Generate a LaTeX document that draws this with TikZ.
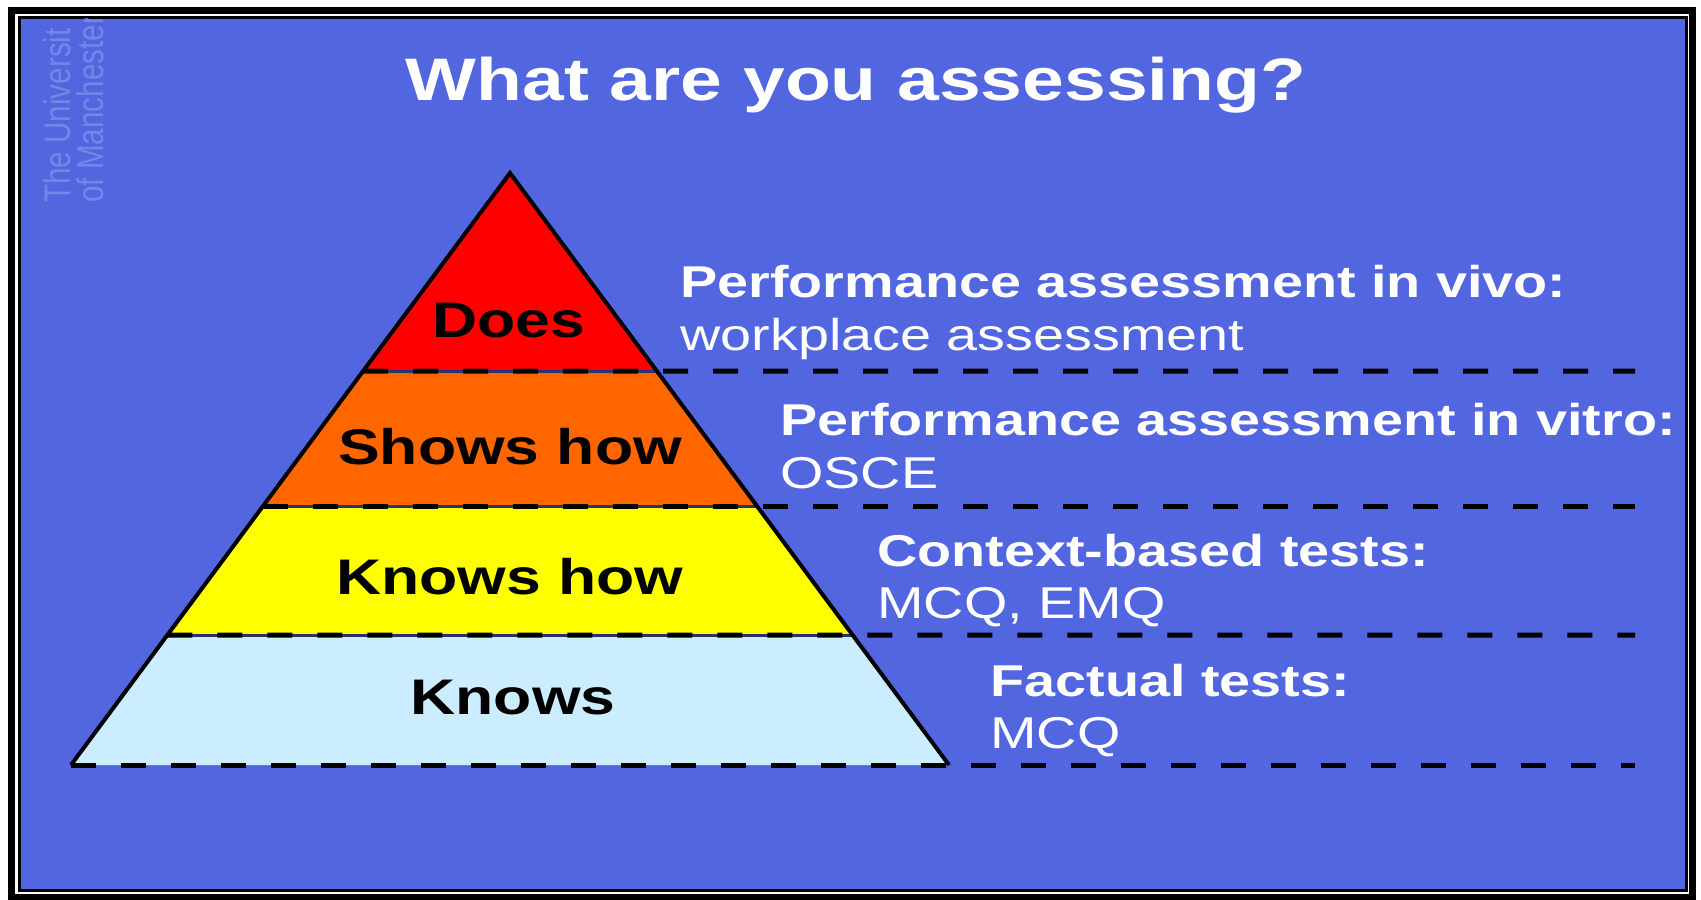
\documentclass[tikz,border=0pt]{standalone}
\usepackage{fontspec}
\setmainfont{Liberation Sans}[FakeStretch=1.25]
\newfontfamily\crestfont{Liberation Sans}[FakeStretch=0.8]
\usetikzlibrary{calc}
\definecolor{slide}{RGB}{82,103,223}
\definecolor{doesred}{RGB}{255,0,0}
\definecolor{showsorange}{RGB}{255,102,0}
\definecolor{knowshowyellow}{RGB}{255,255,0}
\definecolor{knowsblue}{RGB}{204,236,255}
\definecolor{crest}{RGB}{116,134,232}
\tikzstyle{heading} = [font=\bfseries\fontsize{30}{34}\selectfont, text=white, anchor=base, inner sep=0]
\tikzstyle{tier} = [font=\bfseries\fontsize{25}{28}\selectfont, anchor=base, inner sep=0]
\tikzstyle{assessment} = [font=\bfseries\fontsize{22.3}{26}\selectfont, text=white, anchor=base west, inner sep=0]
\tikzstyle{method} = [font=\fontsize{22.3}{26}\selectfont, text=white, anchor=base west, inner sep=0]
\tikzstyle{crestline} = [font=\crestfont\fontsize{18.5}{20}\selectfont, text=crest, rotate=90, anchor=base west, inner sep=0]
\tikzstyle{divider} = [black, line width=2.5pt, dash pattern=on 12.5pt off 12.5pt]

\begin{document}
\begin{tikzpicture}[x=0.5pt,y=-0.5pt]
\useasboundingbox (0,0) rectangle (1701,899);
\fill[white] (0,0) rectangle (1701,899);
% double frame round the slide
\draw[line width=3.5pt] (11.5,10.5) rectangle (1692.5,897);
\draw[line width=1.5pt, fill=slide] (19,17.5) rectangle (1686.5,890);

% faint university crest text
\begin{scope}
	\clip (21,19) rectangle (1685,889);
	\node[crestline] (uni) at (70,203) {The Universit};
	\node[crestline] (manc) at (103,203) {of Manchester};
\end{scope}

% pyramid corners and tier edges
\coordinate (apex) at (510,173);
\coordinate (l4) at (71,765);
\coordinate (r4) at (949,765);
\coordinate (l1) at ($(apex)!0.3345!(l4)$);
\coordinate (r1) at ($(apex)!0.3345!(r4)$);
\coordinate (l2) at ($(apex)!0.5625!(l4)$);
\coordinate (r2) at ($(apex)!0.5625!(r4)$);
\coordinate (l3) at ($(apex)!0.7804!(l4)$);
\coordinate (r3) at ($(apex)!0.7804!(r4)$);

\fill[doesred] (apex) -- (r1) -- (l1) -- cycle;
\fill[showsorange] (l1) -- (r1) -- (r2) -- (l2) -- cycle;
\fill[knowshowyellow] (l2) -- (r2) -- (r3) -- (l3) -- cycle;
\fill[knowsblue] (l3) -- (r3) -- (r4) -- (l4) -- cycle;
\foreach \i in {1,2,3}
	\draw[slide!50!black, line width=1.5pt] (l\i) -- (r\i);

% dashed rules out to the right
\coordinate (e1) at (1635,371);
\coordinate (e2) at (1635,506);
\coordinate (e3) at (1635,635);
\coordinate (e4) at (1635,765);
\foreach \i in {1,...,4}
	\draw[divider] (l\i) -- (e\i);
\draw[line width=2pt, line join=miter] (l4) -- (apex) -- (r4);

\node[heading] (title) at (856,101) {What are you assessing?};

\node[tier] (does) at (509,337) {Does};
\node[tier] (shows) at (510,464) {Shows how};
\node[tier] (knowshow) at (510,594) {Knows how};
\node[tier] (knows) at (513,714) {Knows};

\node[assessment] (vivo) at (680,297) {Performance assessment in vivo:};
\node[method] (workplace) at (680,350) {workplace assessment};
\node[assessment] (vitro) at (780,435) {Performance assessment in vitro:};
\node[method] (osce) at (780,488) {OSCE};
\node[assessment] (context) at (877,566) {Context-based tests:};
\node[method] (mcqemq) at (877,618) {MCQ, EMQ};
\node[assessment] (factual) at (990,696) {Factual tests:};
\node[method] (mcq) at (990,748) {MCQ};
\end{tikzpicture}
\end{document}
